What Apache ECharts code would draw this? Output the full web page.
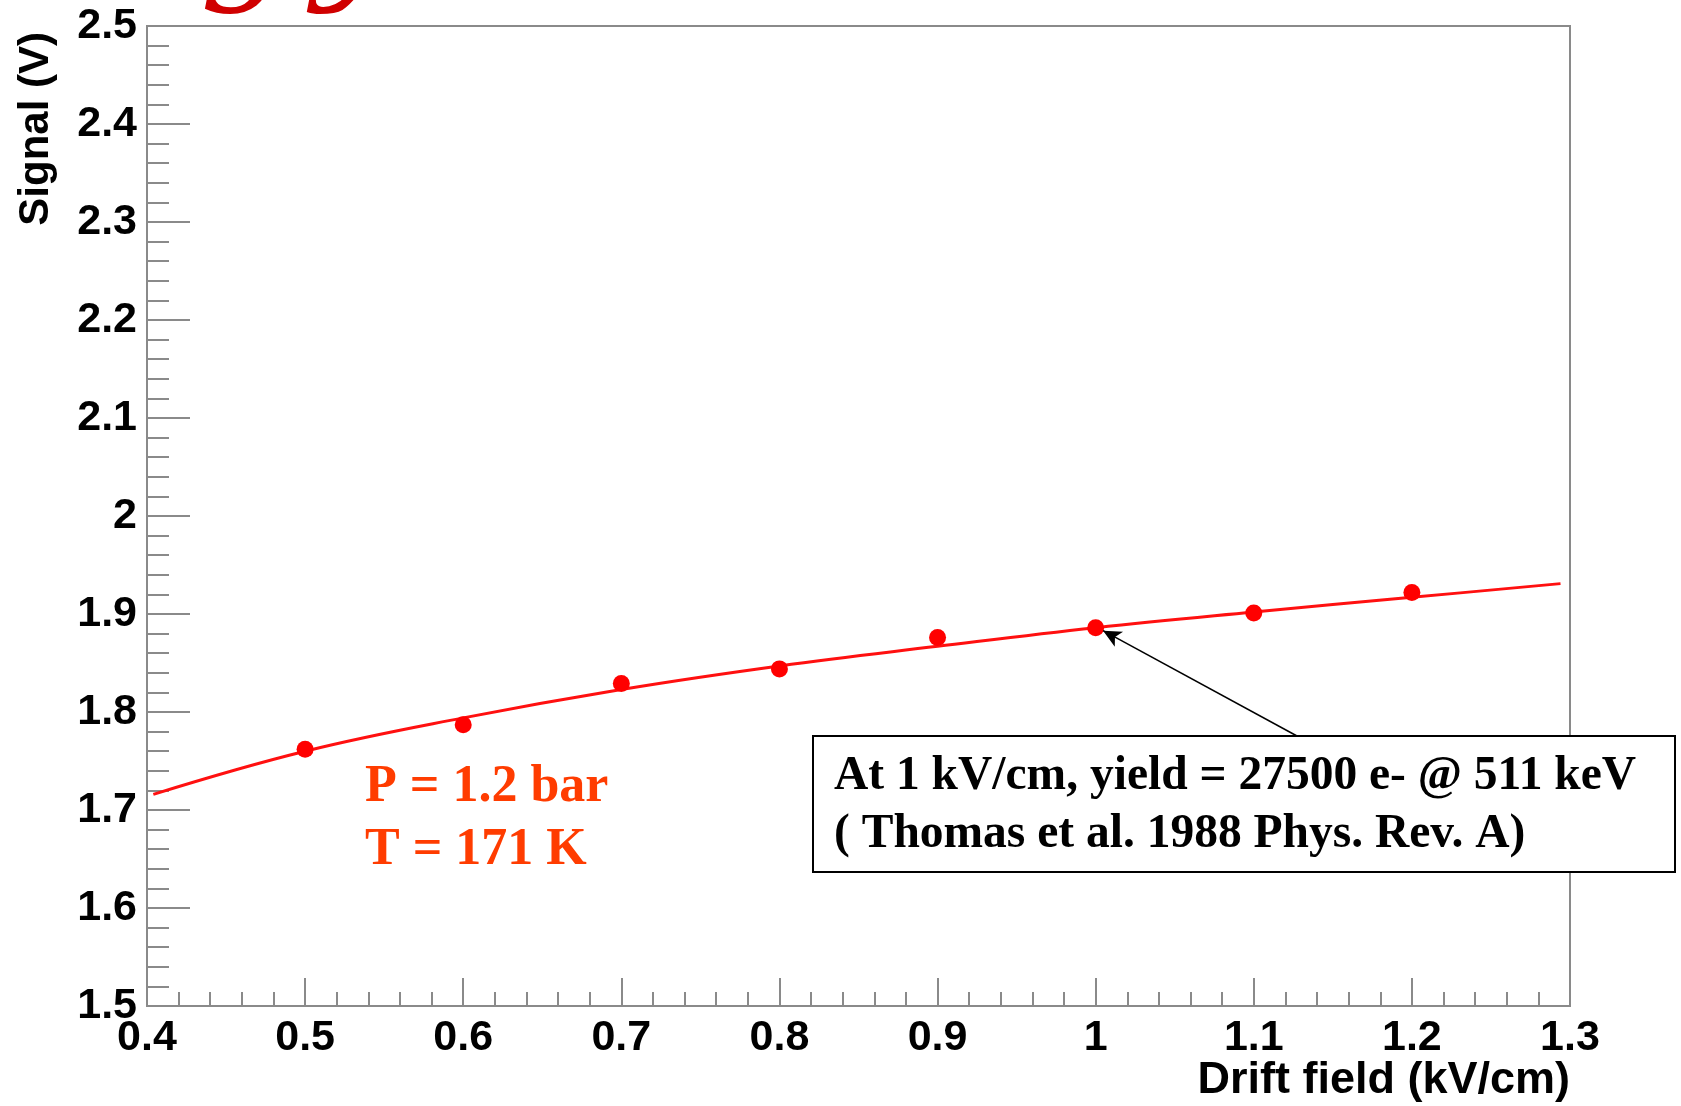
<!DOCTYPE html>
<html>
<head>
<meta charset="utf-8">
<script src="https://cdn.jsdelivr.net/npm/echarts@6/dist/echarts.min.js"></script>
<style>
  html, body { margin: 0; padding: 0; background: #fff; }
  #chart { width: 1681px; height: 1106px; }
</style>
</head>
<body>
<div id="chart"></div>
<script>
// Measured points: drift field (kV/cm) vs signal (V)
const fieldKV = [0.5, 0.6, 0.7, 0.8, 0.9, 1.0, 1.1, 1.2];
const signalV = [1.762, 1.787, 1.829, 1.844, 1.876, 1.886, 1.901, 1.922];

// Fit curve
const fitField  = [0.404, 0.5, 0.6, 0.7, 0.8, 0.9, 1.0, 1.1, 1.2, 1.294];
const fitSignal = [1.716, 1.760, 1.794, 1.823, 1.847, 1.867, 1.886, 1.902, 1.917, 1.931];

// Axis ranges
const xRange = [0.4, 1.3];
const yRange = [1.5, 2.5];

const xTitle = 'Drift field (kV/cm)';
const yTitle = 'Signal (V)';
const conditionText = ['P = 1.2 bar', 'T = 171 K'];
const noteText = ['At 1 kV/cm, yield = 27500 e- @ 511 keV', '( Thomas et al. 1988 Phys. Rev. A)'];
const arrowTarget = [1.0047, 1.883];

const chart = echarts.init(document.getElementById('chart'), null, { renderer: 'canvas' });

const axisGray = '#8a8a8a';
const labelFont = { color: '#000', fontFamily: '"Liberation Sans", Arial, sans-serif', fontWeight: 'bold', fontSize: 43 };

const option = {
  animation: false,
  backgroundColor: '#fff',
  grid: { left: 147, right: 111, top: 26, bottom: 100, show: true, borderColor: axisGray, borderWidth: 2, backgroundColor: 'transparent' },
  xAxis: {
    type: 'value', min: xRange[0], max: xRange[1], interval: 0.1,
    axisLine: { show: true, lineStyle: { color: axisGray, width: 2 } },
    axisTick: { show: true, inside: true, length: 28, lineStyle: { color: axisGray, width: 2 } },
    minorTick: { show: true, splitNumber: 5, length: 14, lineStyle: { color: axisGray, width: 2 } },
    splitLine: { show: false },
    axisLabel: Object.assign({ margin: 11, formatter: v => String(+v.toFixed(2)) }, labelFont)
  },
  yAxis: {
    type: 'value', min: yRange[0], max: yRange[1], interval: 0.1,
    axisLine: { show: true, lineStyle: { color: axisGray, width: 2 } },
    axisTick: { show: true, inside: true, length: 43, lineStyle: { color: axisGray, width: 2 } },
    minorTick: { show: true, splitNumber: 5, length: 22, lineStyle: { color: axisGray, width: 2 } },
    splitLine: { show: false },
    axisLabel: Object.assign({ margin: 10, formatter: v => String(+v.toFixed(2)) }, labelFont)
  },
  series: [
    {
      type: 'line',
      data: fitField.map((x, i) => [x, fitSignal[i]]),
      smooth: 0.4,
      showSymbol: false,
      symbol: 'none',
      lineStyle: { color: '#ff1010', width: 3 },
      z: 2,
      markLine: {
        silent: true,
        symbol: ['none', 'arrow'],
        symbolSize: [13, 18],
        label: { show: false },
        lineStyle: { color: '#000', width: 1.5, type: 'solid' },
        data: [[{ x: 1297, y: 736 }, { coord: arrowTarget }]]
      }
    },
    {
      type: 'scatter',
      data: fieldKV.map((x, i) => [x, signalV[i]]),
      symbol: 'circle',
      symbolSize: 17,
      itemStyle: { color: '#ff0000', opacity: 1 },
      z: 3
    }
  ],
  graphic: [
    { type: 'text', x: 200, y: 17, style: { text: 'g', fontFamily: '"DejaVu Serif", serif', fontStyle: 'italic', fontSize: 140, fill: '#d00000', textVerticalAlign: 'bottom' } },
    { type: 'text', x: 312, y: 17, style: { text: 'y', fontFamily: '"DejaVu Serif", serif', fontStyle: 'italic', fontSize: 140, fill: '#d00000', textVerticalAlign: 'bottom' } },
    { type: 'text', x: 36, y: 32, rotation: Math.PI / 2, style: { text: yTitle, font: 'bold 42px "Liberation Sans", Arial, sans-serif', fill: '#000', textAlign: 'right', textVerticalAlign: 'middle' } },
    { type: 'text', x: 1570, y: 1081, style: { text: xTitle, font: 'bold 45px "Liberation Sans", Arial, sans-serif', fill: '#000', textAlign: 'right', textVerticalAlign: 'middle' } },
    { type: 'text', x: 365, y: 788, z: 10, style: { text: conditionText[0], font: 'bold 52px "Liberation Serif", serif', fill: '#ff3c00', textAlign: 'left', textVerticalAlign: 'middle' } },
    { type: 'text', x: 365, y: 851, z: 10, style: { text: conditionText[1], font: 'bold 52px "Liberation Serif", serif', fill: '#ff3c00', textAlign: 'left', textVerticalAlign: 'middle' } },
    { type: 'rect', z: 10, shape: { x: 813, y: 736, width: 862, height: 136 }, style: { fill: '#fff', stroke: '#000', lineWidth: 2 } },
    { type: 'text', z: 11, x: 834, y: 777, style: { text: noteText[0], font: 'bold 47.5px "Liberation Serif", serif', fill: '#000', textAlign: 'left', textVerticalAlign: 'middle' } },
    { type: 'text', z: 11, x: 834, y: 835, style: { text: noteText[1], font: 'bold 47.5px "Liberation Serif", serif', fill: '#000', textAlign: 'left', textVerticalAlign: 'middle' } }
  ]
};

chart.setOption(option);
</script>
</body>
</html>
